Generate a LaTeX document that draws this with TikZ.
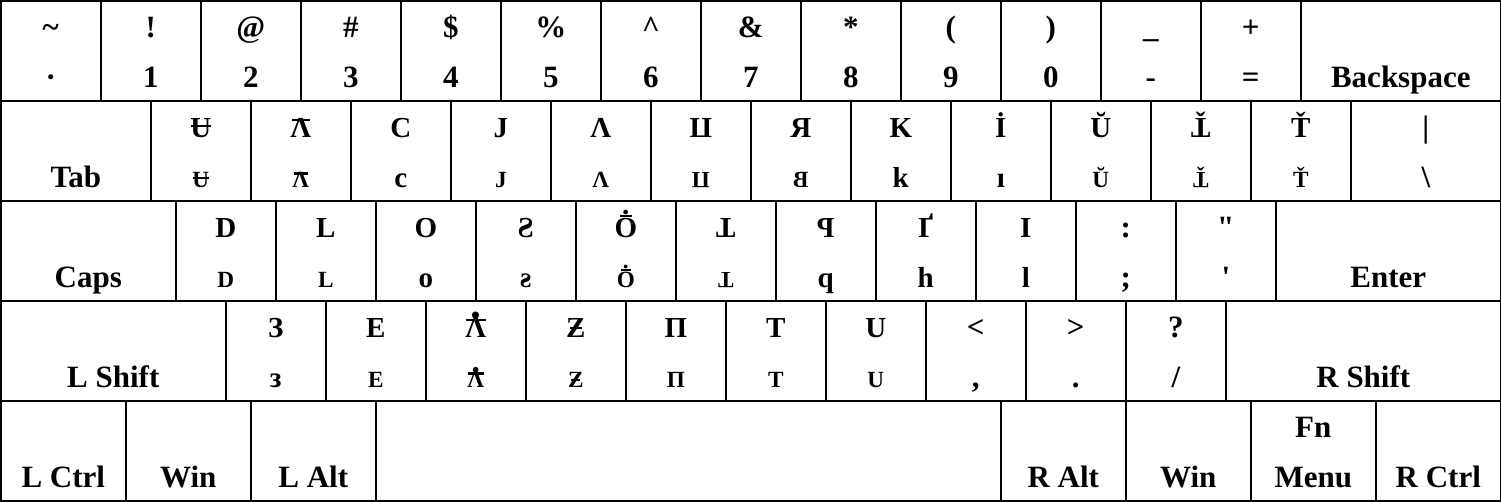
\documentclass[tikz,border=0pt]{standalone}
\usepackage{fontspec}
\setmainfont{Liberation Serif}
\usepackage{graphicx}
\newcommand\sm[1]{\scalebox{0.8}{#1}}
\newcommand\lt[1]{{\fontsize{29}{29}\selectfont #1}}
% overlay #2 raised by #1 centred on base glyph #3
\newcommand\ovl[3]{\setbox0\hbox{#3}\hbox{\rlap{\copy0}\hbox to\wd0{\hss\raise#1\hbox{#2}\hss}}}
\newcommand\GbarU{\ovl{0.55\ht0}{\rule{0.95\wd0}{0.085em}}{U}}
\newcommand\GbarL{\ovl{\dimexpr\ht0-0.09em\relax}{\rule{0.85\wd0}{0.09em}}{Λ}}
\newcommand\GrotPi{\rotatebox[origin=c]{180}{Π}}
\newcommand\GrotT{\rotatebox[origin=c]{180}{T}}
\newcommand\GcarT{\ovl{\dimexpr\ht0-0.47em\relax}{ˇ}{\GrotT}}
\newcommand\GObar{\ovl{\dimexpr\ht0+0.02em\relax}{.}{\ovl{\dimexpr\ht0+0.05em\relax}{\rule{0.55\wd0}{0.08em}}{O}}}
\newcommand\Gman{\ovl{\dimexpr\ht0+0.01em\relax}{\scalebox{1.5}{.}}{\ovl{\dimexpr\ht0-0.09em\relax}{\rule{0.95\wd0}{0.09em}}{Λ}}}
\newcommand\GZ{\ovl{\dimexpr0.5\ht0-0.04em\relax}{\rule{0.6\wd0}{0.08em}}{Z}}
\tikzset{
  keybox/.style={draw, line width=1.6pt, rectangle, minimum height=100pt, inner sep=0pt, outer sep=0pt},
  lab/.style={anchor=base, inner sep=0pt, outer sep=0pt, font=\bfseries\fontsize{31}{31}\selectfont},
}
\newcommand\K[6]{%
  \node[keybox, minimum width=#4pt, anchor=north west] (#1) at (#2pt,#3pt) {};
  \node[lab] (#1t) at ([yshift=-37pt]#1.north) {#5};
  \node[lab] (#1b) at ([yshift=-87pt]#1.north) {#6};}
\begin{document}
\begin{tikzpicture}
\useasboundingbox (-0.8pt,0.8pt) rectangle (1500.2pt,-500.2pt);
% row 1
\K{a1}{0}{0}{100}{\textasciitilde}{·}
\K{a2}{100}{0}{100}{!}{1}
\K{a3}{200}{0}{100}{@}{2}
\K{a4}{300}{0}{100}{\#}{3}
\K{a5}{400}{0}{100}{\$}{4}
\K{a6}{500}{0}{100}{\%}{5}
\K{a7}{600}{0}{100}{\textasciicircum}{6}
\K{a8}{700}{0}{100}{\&}{7}
\K{a9}{800}{0}{100}{*}{8}
\K{a10}{900}{0}{100}{(}{9}
\K{a11}{1000}{0}{100}{)}{0}
\K{a12}{1100}{0}{100}{\textunderscore}{-}
\K{a13}{1200}{0}{100}{+}{=}
\K{a14}{1300}{0}{200}{}{Backspace}
% row 2
\K{b1}{0}{-100}{150}{}{Tab}
\K{b2}{150}{-100}{100}{\lt{\GbarU}}{\lt{\sm{\GbarU}}}
\K{b3}{250}{-100}{100}{\lt{\GbarL}}{\lt{\sm{\GbarL}}}
\K{b4}{350}{-100}{100}{\lt{C}}{\lt{c}}
\K{b5}{450}{-100}{100}{\lt{J}}{\lt{\sm{J}}}
\K{b6}{550}{-100}{100}{\lt{Λ}}{\lt{\sm{Λ}}}
\K{b7}{650}{-100}{100}{\lt{\GrotPi}}{\lt{\sm{\GrotPi}}}
\K{b8}{750}{-100}{100}{\lt{Я}}{\lt{\sm{\reflectbox{B}}}}
\K{b9}{850}{-100}{100}{\lt{K}}{\lt{k}}
\K{b10}{950}{-100}{100}{\lt{İ}}{\lt{ı}}
\K{b11}{1050}{-100}{100}{\lt{Ŭ}}{\lt{\sm{Ŭ}}}
\K{b12}{1150}{-100}{100}{\lt{\GcarT}}{\lt{\sm{\GcarT}}}
\K{b13}{1250}{-100}{100}{\lt{Ť}}{\lt{\sm{Ť}}}
\K{b14}{1350}{-100}{150}{|}{\textbackslash}
% row 3
\K{c1}{0}{-200}{175}{}{Caps}
\K{c2}{175}{-200}{100}{\lt{D}}{\lt{\sm{D}}}
\K{c3}{275}{-200}{100}{\lt{L}}{\lt{\sm{L}}}
\K{c4}{375}{-200}{100}{\lt{O}}{\lt{o}}
\K{c5}{475}{-200}{100}{\lt{\reflectbox{S}}}{\lt{\reflectbox{s}}}
\K{c6}{575}{-200}{100}{\lt{\GObar}}{\lt{\sm{\GObar}}}
\K{c7}{675}{-200}{100}{\lt{\GrotT}}{\lt{\sm{\GrotT}}}
\K{c8}{775}{-200}{100}{\lt{\reflectbox{P}}}{\lt{q}}
\K{c9}{875}{-200}{100}{\lt{Ґ}}{\lt{h}}
\K{c10}{975}{-200}{100}{\lt{I}}{\lt{l}}
\K{c11}{1075}{-200}{100}{:}{;}
\K{c12}{1175}{-200}{100}{\textquotedbl}{\textquotesingle}
\K{c13}{1275}{-200}{225}{}{Enter}
% row 4
\K{d1}{0}{-300}{225}{}{L Shift}
\K{d2}{225}{-300}{100}{\lt{З}}{\lt{з}}
\K{d3}{325}{-300}{100}{\lt{E}}{\lt{\sm{E}}}
\K{d4}{425}{-300}{100}{\lt{\Gman}}{\lt{\sm{\Gman}}}
\K{d5}{525}{-300}{100}{\lt{\GZ}}{\lt{\sm{\GZ}}}
\K{d6}{625}{-300}{100}{\lt{Π}}{\lt{\sm{Π}}}
\K{d7}{725}{-300}{100}{\lt{T}}{\lt{\sm{T}}}
\K{d8}{825}{-300}{100}{\lt{U}}{\lt{\sm{U}}}
\K{d9}{925}{-300}{100}{<}{,}
\K{d10}{1025}{-300}{100}{>}{.}
\K{d11}{1125}{-300}{100}{?}{/}
\K{d12}{1225}{-300}{275}{}{R Shift}
% row 5
\K{e1}{0}{-400}{125}{}{L Ctrl}
\K{e2}{125}{-400}{125}{}{Win}
\K{e3}{250}{-400}{125}{}{L Alt}
\K{e4}{375}{-400}{625}{}{}
\K{e5}{1000}{-400}{125}{}{R Alt}
\K{e6}{1125}{-400}{125}{}{Win}
\K{e7}{1250}{-400}{125}{Fn}{Menu}
\K{e8}{1375}{-400}{125}{}{R Ctrl}
\end{tikzpicture}
\end{document}
